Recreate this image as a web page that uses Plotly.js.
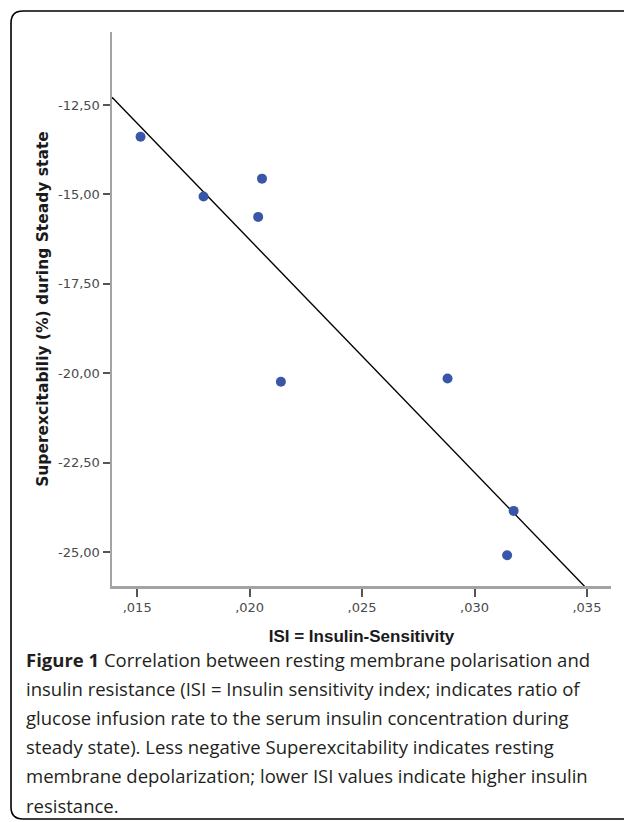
<!DOCTYPE html>
<html>
<head>
<meta charset="utf-8">
<script src="https://cdn.plot.ly/plotly-3.0.1.min.js"></script>
<style>
  html, body { margin: 0; padding: 0; background: #ffffff; }
  #chart { width: 624px; height: 822px; }
</style>
</head>
<body>
<div id="chart"></div>
<script>
// ---- Data ----
const isi = [0.01515, 0.01795, 0.02055, 0.02038, 0.02139, 0.02880, 0.03174, 0.03145];
const superexcitability = [-13.39, -15.06, -14.56, -15.63, -20.24, -20.15, -23.85, -25.09];

const xTickVals = [0.015, 0.020, 0.025, 0.030, 0.035];
const xTickText = [',015', ',020', ',025', ',030', ',035'];
const yTickVals = [-12.5, -15, -17.5, -20, -22.5, -25];
const yTickText = ['-12,50', '-15,00', '-17,50', '-20,00', '-22,50', '-25,00'];

const xTitle = 'ISI = Insulin-Sensitivity';
const yTitle = 'Superexcitabiliy (%) during Steady state';

const captionLines = [
  '<b>Figure 1</b> Correlation between resting membrane polarisation and',
  'insulin resistance (ISI = Insulin sensitivity index; indicates ratio of',
  'glucose infusion rate to the serum insulin concentration during',
  'steady state). Less negative Superexcitability indicates resting',
  'membrane depolarization; lower ISI values indicate higher insulin',
  'resistance.'
];

const xRange = [0.01388, 0.03607];
const yRange = [-25.95, -10.46];

// ---- Least-squares fit line computed from the data ----
const n = isi.length;
const mx = isi.reduce((a, b) => a + b, 0) / n;
const my = superexcitability.reduce((a, b) => a + b, 0) / n;
let sxy = 0, sxx = 0;
for (let i = 0; i < n; i++) {
  sxy += (isi[i] - mx) * (superexcitability[i] - my);
  sxx += (isi[i] - mx) * (isi[i] - mx);
}
const slope = sxy / sxx;
const intercept = my - slope * mx;
const fitX = [xRange[0], xRange[1]];
const fitY = fitX.map(x => intercept + slope * x);

// ---- Layout geometry (pixels) ----
const W = 624, H = 822;
const M = { l: 112, r: 13, t: 32, b: 236 };
const PW = W - M.l - M.r, PH = H - M.t - M.b;
const px2x = p => (p - M.l) / PW;
const px2y = p => (H - M.b - p) / PH;

// rounded border box
const bl = 11, bt = 11, bb = 819, br = 650, rad = 12;
const borderPath =
  `M ${px2x(br)},${px2y(bt)} L ${px2x(bl + rad)},${px2y(bt)} ` +
  `Q ${px2x(bl)},${px2y(bt)} ${px2x(bl)},${px2y(bt + rad)} ` +
  `L ${px2x(bl)},${px2y(bb - rad)} ` +
  `Q ${px2x(bl)},${px2y(bb)} ${px2x(bl + rad)},${px2y(bb)} ` +
  `L ${px2x(br)},${px2y(bb)}`;

const captionAnnotations = captionLines.map((t, i) => ({
  text: t,
  xref: 'paper', yref: 'paper',
  x: px2x(24), y: px2y(659 + i * 29.2),
  xanchor: 'left', yanchor: 'middle', align: 'left',
  showarrow: false,
  font: { family: 'Open Sans, sans-serif', size: 18.5, color: '#231f20' }
}));

const traces = [
  {
    x: fitX, y: fitY,
    type: 'scatter', mode: 'lines',
    line: { color: '#000000', width: 1.4 },
    hoverinfo: 'skip', showlegend: false
  },
  {
    x: isi, y: superexcitability,
    type: 'scatter', mode: 'markers',
    marker: { color: '#3a56a8', size: 10 },
    showlegend: false
  }
];

const tickFont = { family: 'DejaVu Sans, sans-serif', size: 13, color: '#4a4a4a' };

const layout = {
  width: W, height: H,
  margin: M,
  paper_bgcolor: '#ffffff',
  plot_bgcolor: '#ffffff',
  showlegend: false,
  xaxis: {
    range: xRange,
    tickvals: xTickVals, ticktext: xTickText,
    ticks: 'outside', ticklen: 8, tickwidth: 2, tickcolor: '#555555',
    tickfont: tickFont,
    showline: true, linecolor: '#a3a3a3', linewidth: 2.5,
    showgrid: false, zeroline: false,
    title: { text: xTitle, standoff: 16,
             font: { family: 'Liberation Sans, Arial, sans-serif', size: 17, color: '#1a1a1a', weight: 'bold' } }
  },
  yaxis: {
    range: yRange,
    tickvals: yTickVals, ticktext: yTickText,
    ticks: 'outside', ticklen: 7, tickwidth: 2, tickcolor: '#555555',
    tickfont: tickFont,
    showline: true, linecolor: '#a3a3a3', linewidth: 2.5,
    showgrid: false, zeroline: false,
    title: { text: yTitle, standoff: 6,
             font: { family: 'DejaVu Sans, sans-serif', size: 15.5, color: '#1a1a1a', weight: 'bold' } }
  },
  shapes: [
    { type: 'path', xref: 'paper', yref: 'paper', path: borderPath,
      line: { color: '#000000', width: 1.6 } }
  ],
  annotations: captionAnnotations
};

Plotly.newPlot('chart', traces, layout, { displayModeBar: false, staticPlot: true });
</script>
</body>
</html>
